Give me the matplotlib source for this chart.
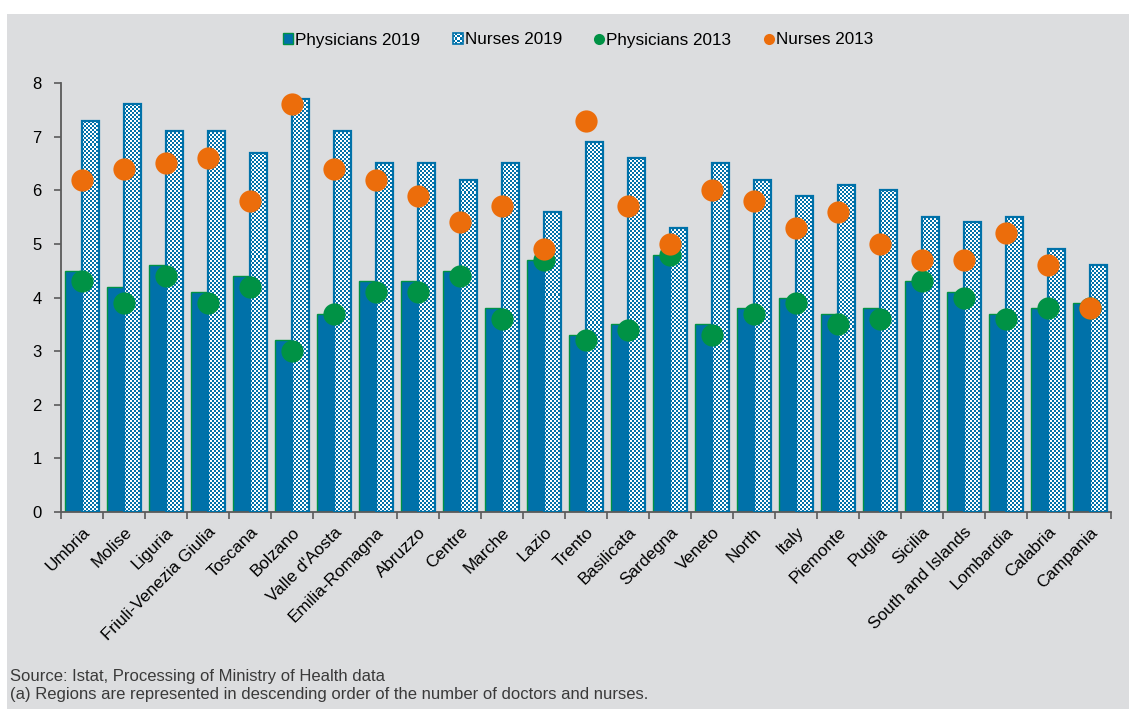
import numpy as np
import matplotlib
matplotlib.use("Agg")
import matplotlib.pyplot as plt
from matplotlib.patches import Rectangle
from matplotlib.lines import Line2D
from matplotlib.legend_handler import HandlerBase
from matplotlib.image import BboxImage
from matplotlib.transforms import Bbox, TransformedBbox
from matplotlib.colors import ListedColormap

# ---- data -------------------------------------------------------------
regions = ["Umbria", "Molise", "Liguria", "Friuli-Venezia Giulia", "Toscana",
           "Bolzano", "Valle d'Aosta", "Emilia-Romagna", "Abruzzo", "Centre",
           "Marche", "Lazio", "Trento", "Basilicata", "Sardegna", "Veneto",
           "North", "Italy", "Piemonte", "Puglia", "Sicilia",
           "South and Islands", "Lombardia", "Calabria", "Campania"]

physicians_2019 = [4.5, 4.2, 4.6, 4.1, 4.4, 3.2, 3.7, 4.3, 4.3, 4.5, 3.8, 4.7, 3.3,
                   3.5, 4.8, 3.5, 3.8, 4.0, 3.7, 3.8, 4.3, 4.1, 3.7, 3.8, 3.9]
nurses_2019 = [7.3, 7.6, 7.1, 7.1, 6.7, 7.7, 7.1, 6.5, 6.5, 6.2, 6.5, 5.6, 6.9,
               6.6, 5.3, 6.5, 6.2, 5.9, 6.1, 6.0, 5.5, 5.4, 5.5, 4.9, 4.6]
physicians_2013 = [4.3, 3.9, 4.4, 3.9, 4.2, 3.0, 3.7, 4.1, 4.1, 4.4, 3.6, 4.7, 3.2,
                   3.4, 4.8, 3.3, 3.7, 3.9, 3.5, 3.6, 4.3, 4.0, 3.6, 3.8, 3.8]
nurses_2013 = [6.2, 6.4, 6.5, 6.6, 5.8, 7.6, 6.4, 6.2, 5.9, 5.4, 5.7, 4.9, 7.3,
               5.7, 5.0, 6.0, 5.8, 5.3, 5.6, 5.0, 4.7, 4.7, 5.2, 4.6, 3.8]

y_ticks = [0, 1, 2, 3, 4, 5, 6, 7, 8]

# ---- style ------------------------------------------------------------
BG = "#dcdddf"
BLUE = "#0071a9"
GREEN = "#009245"
ORANGE = "#ec6d0b"
AXIS = "#5a5a5a"
checker_cmap = ListedColormap(["white", BLUE])

plt.rcParams["font.family"] = ["Liberation Sans", "DejaVu Sans"]

W, H = 1129, 709
fig = plt.figure(figsize=(W / 100, H / 100), dpi=100)
fig.patch.set_facecolor("white")
# grey panel behind the chart
fig.patches.append(Rectangle((7 / W, 0), 1 - 7 / W, 1 - 14 / H,
                             transform=fig.transFigure, facecolor=BG,
                             edgecolor="none", zorder=-10))

ax = fig.add_axes([61 / W, 1 - 512 / H, 1050 / W, 429 / H])
ax.set_facecolor("none")

n = len(regions)
x = np.arange(n)
w = 0.415

ax.set_xlim(-0.5, n - 0.5)
ax.set_ylim(0, 8)

ax.bar(x - w / 2, physicians_2019, width=w, color=BLUE, edgecolor=GREEN,
       linewidth=1.0, zorder=2)
nurse_bars = ax.bar(x + w / 2, nurses_2019, width=w, facecolor="none",
                    edgecolor=BLUE, linewidth=1.6, zorder=3)


def checker(rows, cols):
    r, c = np.indices((rows, cols))
    return ((r + c) % 2).astype(float)


# fill each nurse bar with a fine checker texture, snapped to whole pixels
cell = 2.0
to_px = ax.transData
to_data = ax.transData.inverted()
for bar in nurse_bars:
    x0, y0 = bar.get_x(), bar.get_y()
    bw, bh = bar.get_width(), bar.get_height()
    (px0, py0), (px1, py1) = to_px.transform([(x0, y0), (x0 + bw, y0 + bh)])
    px0 = np.floor(px0)
    py0 = np.floor(py0)
    cols = int(np.ceil((px1 - px0) / cell))
    rows = int(np.ceil((py1 - py0) / cell))
    (dx0, dy0), (dx1, dy1) = to_data.transform(
        [(px0, py0), (px0 + cols * cell, py0 + rows * cell)])
    im = ax.imshow(checker(rows, cols), cmap=checker_cmap, vmin=0, vmax=1,
                   extent=(dx0, dx1, dy0, dy1), aspect="auto",
                   interpolation="nearest", zorder=2.5, origin="lower")
    im.set_clip_path(bar)

ax.plot(x, physicians_2013, "o", color=GREEN, markersize=16,
        markeredgewidth=0, zorder=4)
ax.plot(x, nurses_2013, "o", color=ORANGE, markersize=16,
        markeredgewidth=0, zorder=5)

ax.set_xlim(-0.5, n - 0.5)
ax.set_ylim(0, 8)

# ---- axes -------------------------------------------------------------
for s in ("top", "right"):
    ax.spines[s].set_visible(False)
for s in ("left", "bottom"):
    ax.spines[s].set_color(AXIS)
    ax.spines[s].set_linewidth(1.3)

ax.set_yticks(y_ticks)
ax.set_yticklabels([str(t) for t in y_ticks])
ax.tick_params(axis="y", direction="out", length=5, width=1.2, color=AXIS,
               labelsize=12, pad=9)

ax.set_xticks(np.arange(-0.5, n, 1.0), minor=True)
ax.set_xticks(x)
ax.set_xticklabels(regions, rotation=45, ha="right", rotation_mode="anchor",
                   fontsize=12.3)
ax.tick_params(axis="x", which="major", length=0, pad=9)
ax.tick_params(axis="x", which="minor", direction="out", length=5, width=1.2,
               color=AXIS)


# ---- legend -----------------------------------------------------------
class CheckerHandler(HandlerBase):
    def create_artists(self, legend, orig_handle, xdescent, ydescent,
                       width, height, fontsize, trans):
        s = min(width, height)
        x0 = -xdescent + (width - s) / 2
        y0 = -ydescent + (height - s) / 2
        bbox = TransformedBbox(Bbox.from_bounds(x0, y0, s, s), trans)
        img = BboxImage(bbox, cmap=checker_cmap, norm=plt.Normalize(0, 1),
                        interpolation="nearest")
        img.set_data(checker(5, 5))
        frame = Rectangle((x0, y0), s, s, facecolor="none", edgecolor=BLUE,
                          linewidth=1.2, transform=trans)
        return [img, frame]


class SquareHandler(HandlerBase):
    def create_artists(self, legend, orig_handle, xdescent, ydescent,
                       width, height, fontsize, trans):
        s = min(width, height)
        x0 = -xdescent + (width - s) / 2
        y0 = -ydescent + (height - s) / 2
        return [Rectangle((x0, y0), s, s, facecolor=BLUE, edgecolor=GREEN,
                          linewidth=1.0, transform=trans)]


h_p19 = Rectangle((0, 0), 1, 1)
h_n19 = Rectangle((0, 0), 1, 1)
h_p13 = Line2D([], [], marker="o", linestyle="none", color=GREEN,
               markersize=8, markeredgewidth=0)
h_n13 = Line2D([], [], marker="o", linestyle="none", color=ORANGE,
               markersize=8, markeredgewidth=0)

fig.legend([h_p19, h_n19, h_p13, h_n13],
           ["Physicians 2019", "Nurses 2019", "Physicians 2013", "Nurses 2013"],
           handler_map={h_p19: SquareHandler(), h_n19: CheckerHandler()},
           loc="center", bbox_to_anchor=(578 / W, 1 - 40 / H), ncol=4,
           frameon=False, fontsize=12.3, handlelength=0.6, handleheight=0.6,
           handletextpad=0.1, columnspacing=1.9)

# ---- notes ------------------------------------------------------------
note_style = dict(fontsize=12, color="#3a3a3a", va="center", ha="left")
fig.text(10 / W, 1 - 677 / H, "Source: Istat, Processing of Ministry of Health data",
         **note_style)
fig.text(10 / W, 1 - 695 / H,
         "(a) Regions are represented in descending order of the number of doctors and nurses.",
         **note_style)

fig.savefig("out.png", dpi=100, facecolor=fig.get_facecolor())
